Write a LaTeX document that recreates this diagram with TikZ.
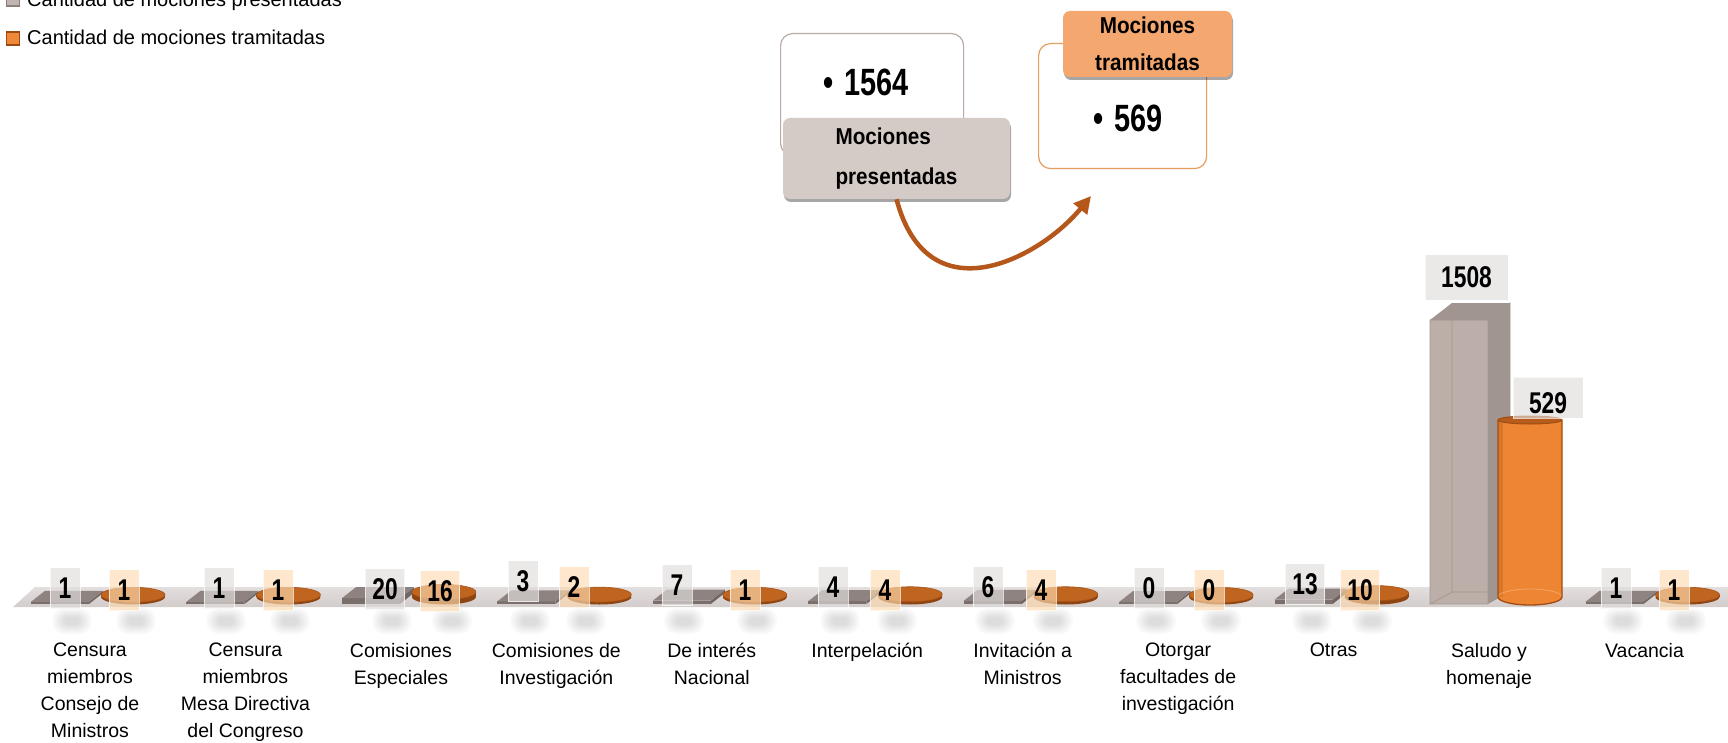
\documentclass[tikz,border=0pt]{standalone}
\usepackage{fontspec}
\setmainfont{Liberation Sans}
\newfontfamily\narrowfont[FakeStretch=0.76]{Liberation Sans}
\newfontfamily\labelfont[FakeStretch=0.9]{Liberation Sans}
\usetikzlibrary{shadows,arrows.meta}
\definecolor{barGrey}{HTML}{BCAFA9}
\definecolor{barGreyTop}{HTML}{A1958F}
\definecolor{barGreySide}{HTML}{A09590}
\definecolor{barEdge}{HTML}{A4978F}
\definecolor{slabTop}{HTML}{8E8380}
\definecolor{slabFront}{HTML}{7A6F6B}
\definecolor{slabSide}{HTML}{6F6561}
\definecolor{orangeBody}{HTML}{EE8533}
\definecolor{orangeEdge}{HTML}{A24C12}
\definecolor{orangeTop}{HTML}{B65C1C}
\definecolor{orangeLight}{HTML}{F6A564}
\definecolor{discOrange}{HTML}{C0651F}
\definecolor{discDark}{HTML}{8E4512}
\definecolor{discEdge}{HTML}{A5541A}
\definecolor{floorTop}{HTML}{E3DFDE}
\definecolor{floorBot}{HTML}{D2CCCB}
\definecolor{tagGrey}{HTML}{E0DDDC}
\definecolor{tagOrange}{HTML}{FDDAB0}
\definecolor{labGrey}{HTML}{D5CBC6}
\definecolor{labOrange}{HTML}{F4A870}
\definecolor{boxGreyLine}{HTML}{B9ABA6}
\definecolor{boxOrangeLine}{HTML}{E39D5C}
\definecolor{arrowBrown}{HTML}{B5561A}
\definecolor{legGrey}{HTML}{C0B5B0}
\definecolor{legGreyEdge}{HTML}{8C807B}
\definecolor{legOrange}{HTML}{F0883A}
\definecolor{legOrangeEdge}{HTML}{9A4A12}
\tikzset{
  legtext/.style={anchor=base west, inner sep=0pt, font=\fontsize{20}{24}\selectfont},
  catlab/.style={anchor=north, inner sep=0pt, align=center, font=\fontsize{19.5}{27}\selectfont},
  tagbase/.style={font=\narrowfont\bfseries\fontsize{30}{30}\selectfont, inner xsep=7pt, inner ysep=0pt,
    minimum width=30pt, minimum height=41pt, fill opacity=0.65, text opacity=1,
    draw=white, draw opacity=0.7, line width=1pt},
  gtag/.style={tagbase, fill=tagGrey},
  otag/.style={tagbase, fill=tagOrange},
  valbox/.style={draw=#1, line width=1.2pt, rounded corners=12pt, fill=white, inner sep=0pt},
  headbox/.style={fill=#1, rounded corners=7pt, inner sep=0pt,
    drop shadow={shadow xshift=1pt, shadow yshift=-3pt, opacity=0.35, fill=black}},
  headtext/.style={font=\labelfont\bfseries\fontsize{23}{#1}\selectfont},
  bignum/.style={anchor=west, inner sep=0pt, font=\narrowfont\bfseries\fontsize{38}{40}\selectfont},
  arrowline/.style={draw=arrowBrown, line width=4.5pt, -{Triangle[length=17pt,width=17pt]}},
  softshadow/.style={fill=black, opacity=0.02, rounded corners=#1}
}
\newcommand{\blurblob}[2]{%
  \fill[softshadow=12pt] (#1-20,#2-13) rectangle (#1+20,#2+13);
  \fill[softshadow=11pt] (#1-18,#2-11.5) rectangle (#1+18,#2+11.5);
  \fill[softshadow=10pt] (#1-16,#2-10) rectangle (#1+16,#2+10);
  \fill[softshadow=9pt] (#1-14,#2-8.5) rectangle (#1+14,#2+8.5);
  \fill[softshadow=8pt] (#1-12,#2-7) rectangle (#1+12,#2+7);
  \fill[softshadow=6pt] (#1-10,#2-5.5) rectangle (#1+10,#2+5.5);
  \fill[softshadow=4pt] (#1-8,#2-4) rectangle (#1+8,#2+4);
}
\begin{document}
\begin{tikzpicture}[x=1pt,y=-1pt]
\useasboundingbox (0,0) rectangle (1728,743);
\clip (0,0) rectangle (1728,743);

% legend
\filldraw[fill=legGrey, draw=legGreyEdge, line width=1.2pt] (6.5,-7) rectangle (19.5,6);
\node[legtext] (leg1) at (27,6.5) {Cantidad de mociones presentadas};
\filldraw[fill=legOrange, draw=legOrangeEdge, line width=1.2pt] (6.5,32) rectangle (19.5,45);
\node[legtext] (leg2) at (27,45) {Cantidad de mociones tramitadas};

% top summary
\node[valbox=boxGreyLine, minimum width=183pt, minimum height=122pt, anchor=north west] (box1) at (780,33) {};
\node[bignum] (num1) at (823,82) {•\hspace{11pt}1564};
\node[headbox=labGrey, minimum width=227pt, minimum height=81pt, align=left, headtext=40] (lab1) at (896.5,158.5) {Mociones\\presentadas};

\node[valbox=boxOrangeLine, minimum width=168pt, minimum height=125pt, anchor=north west] (box2) at (1038,43) {};
\node[bignum] (num2) at (1093,118) {•\hspace{11pt}569};
\node[headbox=labOrange, minimum width=169pt, minimum height=66pt, align=center, headtext=37] (lab2) at (1147.5,44) {Mociones\\tramitadas};

\coordinate (arrEnd) at (1091,196);
\draw[arrowline] (lab1.south) .. controls (928,318) and (1040,258) .. (arrEnd);

% floor
\shade[top color=floorTop, bottom color=floorBot] (13,607) -- (35,587) -- (1728,587) -- (1728,607) -- cycle;

% small bars
\foreach \i/\gv/\ov/\gx/\gy/\ox/\oy in {0/1/1/65/588/124/590, 1/1/1/219/588/278/590, 2/20/16/385/589/440/591, 3/3/2/523/581/574/587, 4/7/1/677/585/745/590, 5/4/4/833/587/885/590, 6/6/4/988/587/1041/590, 7/0/0/1149/588/1209/590, 8/13/10/1305/584/1360/590, 10/1/1/1616/588/1674/590}{
  \pgfmathsetmacro\X{90+155.45*\i}
  \pgfmathsetmacro\hg{2+0.19*\gv}
  \pgfmathsetmacro\ho{2+0.19*\ov}
  \blurblob{\gx+7}{621}
  \blurblob{\ox+12}{621}
  \fill[slabFront] (\X-59,604-\hg) rectangle (\X-1,604);
  \fill[slabSide] (\X-1,604) -- (\X-1,604-\hg) -- (\X+13,593-\hg) -- (\X+13,593) -- cycle;
  \fill[slabTop] (\X-59,604-\hg) -- (\X-1,604-\hg) -- (\X+13,593-\hg) -- (\X-45,593-\hg) -- cycle;
  \fill[discDark] (\X+43,597) ellipse[x radius=32pt, y radius=7.5pt];
  \fill[discDark] (\X+11,597) rectangle (\X+75,597-\ho);
  \filldraw[fill=discOrange, draw=discEdge, line width=0.6pt] (\X+43,597-\ho) ellipse[x radius=32pt, y radius=7.5pt];
  \node[gtag] (g\i) at (\gx,\gy) {\gv};
  \node[otag] (o\i) at (\ox,\oy) {\ov};
}

% big grey bar (Saludo y homenaje)
\fill[barGrey] (1430,320) rectangle (1488,604);
\fill[barGreySide] (1488,320) -- (1510,303) -- (1510,592) -- (1488,604) -- cycle;
\fill[barGreyTop] (1430,320) -- (1488,320) -- (1510,303) -- (1452,303) -- cycle;
\draw[barEdge, line width=0.8pt] (1452,303) -- (1452,592) -- (1510,592) (1452,592) -- (1430,604);
\draw[barEdge, line width=0.8pt] (1430,604) -- (1430,320) -- (1488,320) -- (1488,604) -- cycle (1488,320) -- (1510,303) -- (1510,592);

% big orange cylinder
\fill[orangeBody] (1498,420) -- (1498,597) arc[start angle=180, end angle=360, x radius=32pt, y radius=8pt] -- (1562,420) -- cycle;
\fill[orangeEdge, opacity=0.25] (1498,420) rectangle (1503,597);
\draw[orangeLight, line width=0.8pt] (1498,597) arc[start angle=180, end angle=0, x radius=32pt, y radius=8pt];
\draw[orangeEdge, line width=1.3pt] (1498,420) -- (1498,597) arc[start angle=180, end angle=360, x radius=32pt, y radius=8pt] -- (1562,420);
\filldraw[fill=orangeTop, draw=orangeEdge, line width=1pt] (1530,420) ellipse[x radius=32pt, y radius=4pt];

\node[gtag, minimum width=83pt, minimum height=45pt] (g9) at (1466.5,277.5) {1508};
\node[gtag, minimum width=70pt, minimum height=41pt, text height=32pt, text depth=0pt] (o9) at (1548,397.5) {529};

% category labels
\foreach \i/\txt in {0/{Censura\\miembros\\Consejo de\\Ministros}, 1/{Censura\\miembros\\Mesa Directiva\\del Congreso}, 2/{Comisiones\\Especiales}, 3/{Comisiones de\\Investigación}, 4/{De interés\\Nacional}, 5/{Interpelación}, 6/{Invitación a\\Ministros}, 7/{Otorgar\\facultades de\\investigación}, 8/{Otras}, 9/{Saludo y\\homenaje}, 10/{Vacancia}}{
  \node[catlab] (c\i) at ({90+155.45*\i},643) {\txt};
}
\end{tikzpicture}
\end{document}
